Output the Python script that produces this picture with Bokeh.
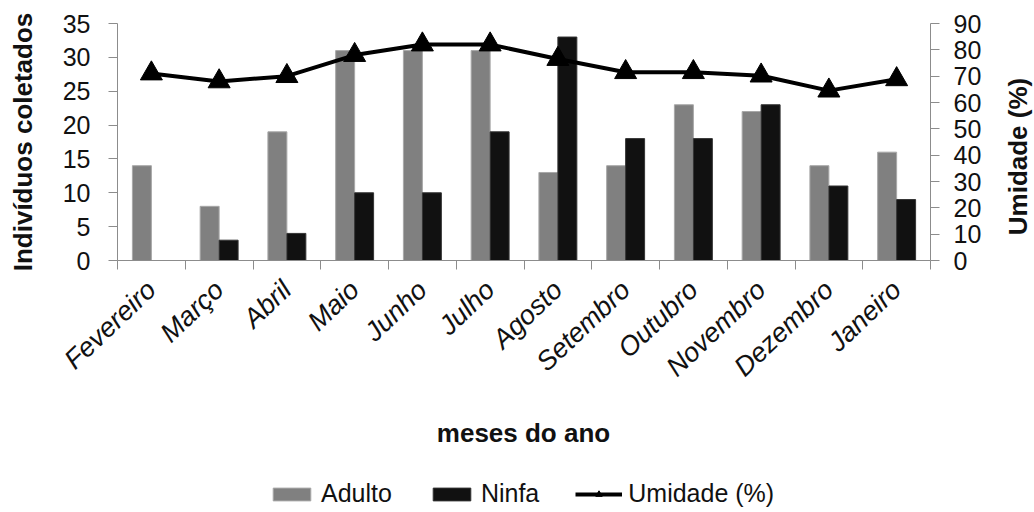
import math
from bokeh.plotting import figure
from bokeh.layouts import column, row
from bokeh.models import (ColumnDataSource, Range1d, LinearAxis, FixedTicker,
                          Legend, LegendItem)
from bokeh.core.properties import value
from bokeh.transform import dodge
from bokeh.embed import file_html
from bokeh.resources import INLINE

months = ["Fevereiro", "Março", "Abril", "Maio", "Junho", "Julho", "Agosto",
          "Setembro", "Outubro", "Novembro", "Dezembro", "Janeiro"]
adulto = [14, 8, 19, 31, 31, 31, 13, 14, 23, 22, 14, 16]
ninfa = [0, 3, 4, 10, 10, 19, 33, 18, 18, 23, 11, 9]
umidade = [71, 68, 70, 78, 82, 82, 76.5, 71.5, 71.5, 70.2, 64.5, 68.8]
left_ticks = [0, 5, 10, 15, 20, 25, 30, 35]
right_ticks = [0, 10, 20, 30, 40, 50, 60, 70, 80, 90]
series_names = ["Adulto", "Ninfa", "Umidade (%)"]

xc = [i + 0.5 for i in range(len(months))]
src = ColumnDataSource(dict(x=xc, adulto=adulto, ninfa=ninfa, umidade=umidade))

FONT = "Liberation Sans"
AX = "#8c8c8c"
TXT = "#111111"
C_AD, C_AD_LINE = "#808080", "#a8a8a8"
C_NI, C_NI_LINE = "#111111", "#333333"


def bare(fig):
    fig.outline_line_color = None
    fig.xgrid.visible = False
    fig.ygrid.visible = False
    return fig


p = bare(figure(frame_width=813, frame_height=237, output_backend="svg", toolbar_location=None,
                x_range=Range1d(0, 12), y_range=Range1d(0, 35),
                min_border_left=117, min_border_right=70, min_border_top=23,
                min_border_bottom=150, x_axis_location=None, y_axis_location=None))
p.extra_y_ranges = {"hum": Range1d(0, 90)}

w = 0.28
p.vbar(x=dodge("x", -w / 2, range=p.x_range), top="adulto", width=w, source=src,
       fill_color=C_AD, line_color=C_AD_LINE, line_width=1)
p.vbar(x=dodge("x", w / 2, range=p.x_range), top="ninfa", width=w, source=src,
       fill_color=C_NI, line_color=C_NI_LINE, line_width=1)
p.line(x="x", y="umidade", source=src, y_range_name="hum", line_color="black", line_width=4)
p.scatter(x="x", y="umidade", source=src, y_range_name="hum", marker="triangle",
          size=22, fill_color="black", line_color="black")

# x axis: labels at category centres, small ticks at boundaries
xax = LinearAxis(ticker=FixedTicker(ticks=xc, minor_ticks=list(range(13))))
xax.major_label_overrides = {v: m for v, m in zip(xc, months)}
xax.major_tick_out = 0
xax.major_tick_in = 0
xax.minor_tick_out = 9
xax.minor_tick_in = 0
xax.minor_tick_line_color = AX
xax.axis_line_color = AX
xax.major_label_orientation = 0.76
xax.major_label_text_font = FONT
xax.major_label_text_font_style = "italic"
xax.major_label_text_font_size = "27px"
xax.major_label_text_color = TXT
xax.major_label_standoff = 16
p.add_layout(xax, "below")

yax = LinearAxis(ticker=FixedTicker(ticks=left_ticks))
yax.major_tick_out = 9
yax.major_tick_in = 0
yax.minor_tick_line_color = None
yax.major_tick_line_color = AX
yax.axis_line_color = AX
yax.major_label_text_font = FONT
yax.major_label_text_font_size = "25px"
yax.major_label_text_color = TXT
yax.major_label_standoff = 18
yax.axis_label = "Indivíduos coletados"
yax.axis_label_text_font = FONT
yax.axis_label_text_font_style = "bold"
yax.axis_label_text_font_size = "26px"
yax.axis_label_text_color = TXT
yax.axis_label_standoff = 22
p.add_layout(yax, "left")

rax = LinearAxis(y_range_name="hum", ticker=FixedTicker(ticks=right_ticks))
rax.major_tick_out = 9
rax.major_tick_in = 0
rax.minor_tick_line_color = None
rax.major_tick_line_color = AX
rax.axis_line_color = AX
rax.major_label_text_font = FONT
rax.major_label_text_font_size = "25px"
rax.major_label_text_color = TXT
rax.major_label_standoff = 14
p.add_layout(rax, "right")

# right-hand title strip (its frame lines up with the chart frame), reading bottom to top
pr = bare(figure(width=34, height=410, output_backend="svg", toolbar_location=None,
                 x_range=Range1d(0, 34), y_range=Range1d(0, 237), min_border=0,
                 x_axis_location=None, y_axis_location=None))
pr.text(x=[17], y=[104], text=[series_names[2]], angle=math.pi / 2,
        text_align="center", text_baseline="middle", text_font=value(FONT),
        text_font_style="bold", text_font_size="26px", text_color=TXT)

# bottom strip: x-axis title and legend
pb = bare(figure(width=1034, height=102, output_backend="svg", toolbar_location=None,
                 x_range=Range1d(0, 1034), y_range=Range1d(0, 102), min_border=0,
                 x_axis_location=None, y_axis_location=None))
pb.text(x=[523], y=[80], text=["meses do ano"], text_align="center",
        text_baseline="middle", text_font=value(FONT), text_font_style="bold",
        text_font_size="26px", text_color=TXT)

# legend key glyphs (one point far outside the strip; they only draw the keys)
far = -1e6
kA = pb.vbar(x=[far], top=[0], width=1, fill_color=C_AD, line_color=C_AD_LINE, line_width=1)
kN = pb.vbar(x=[far], top=[0], width=1, fill_color=C_NI, line_color=C_NI_LINE, line_width=1)
kL = pb.line(x=[far, far + 1], y=[0, 0], line_color="black", line_width=4)
kS = pb.scatter(x=[far], y=[0], marker="triangle", size=22, fill_color="black", line_color="black")

legend = Legend(items=[LegendItem(label=series_names[0], renderers=[kA]),
                       LegendItem(label=series_names[1], renderers=[kN]),
                       LegendItem(label=series_names[2], renderers=[kL, kS])],
                orientation="horizontal", location=(268, 4),
                label_text_font=FONT, label_text_font_size="25px", label_text_color=TXT,
                glyph_width=47, glyph_height=16, label_standoff=6, spacing=36,
                border_line_color=None, background_fill_alpha=0, margin=0, padding=0)
pb.add_layout(legend, "center")

layout = column(row(p, pr, spacing=0), pb, spacing=0)
open("out.html", "w").write(file_html(layout, INLINE))
